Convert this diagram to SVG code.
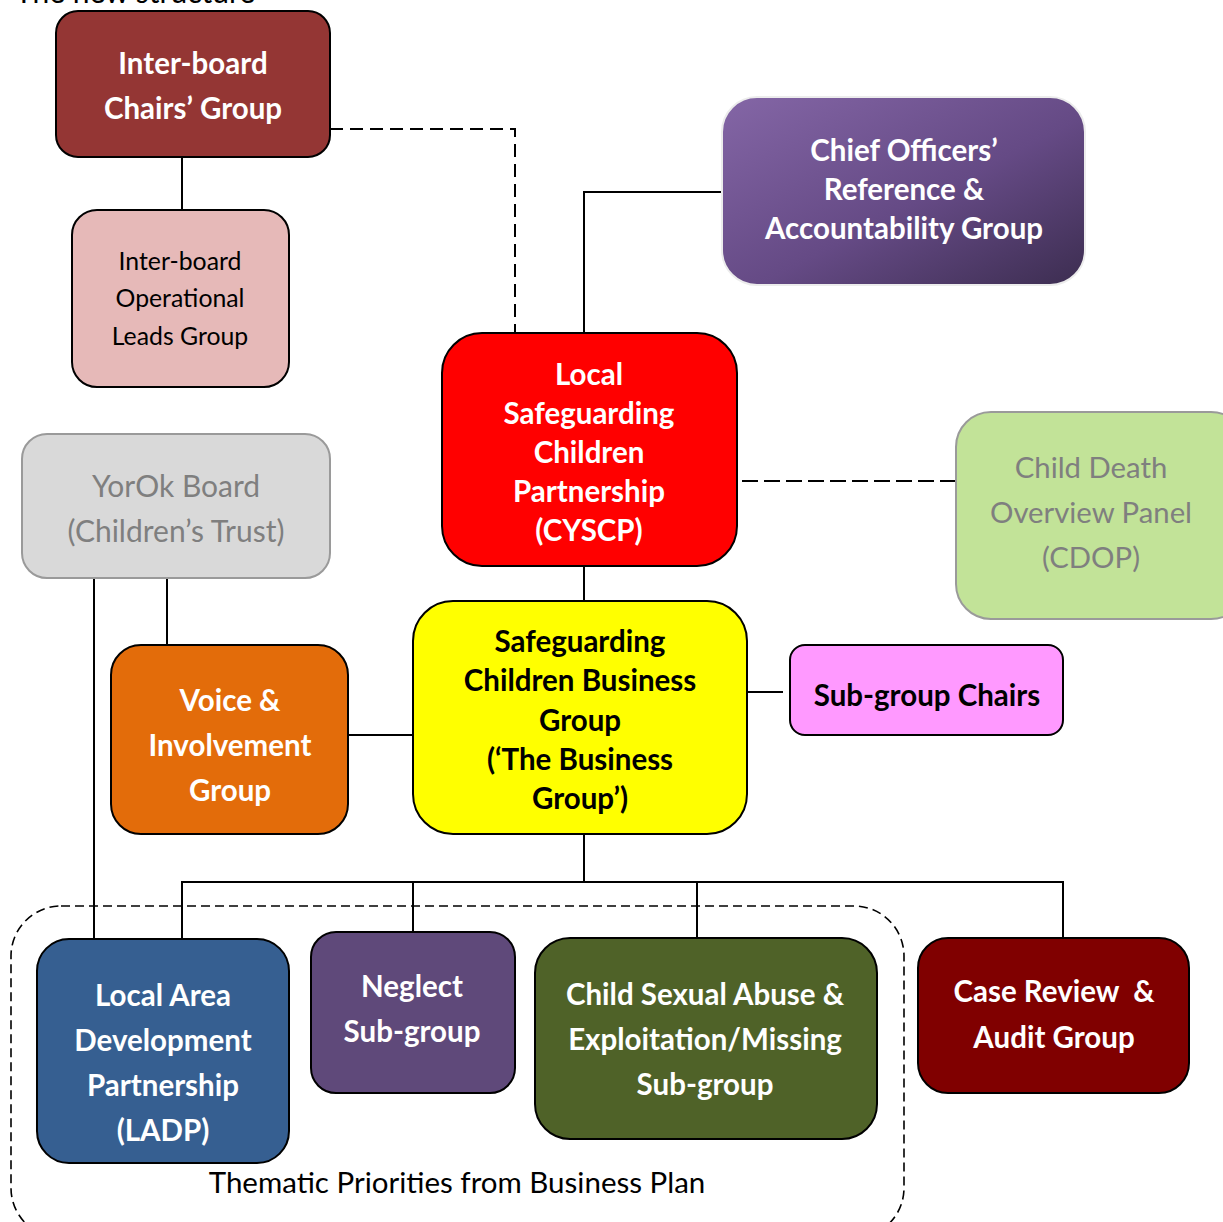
<svg xmlns="http://www.w3.org/2000/svg" width="1223" height="1222" viewBox="0 0 1223 1222">
  <defs>
    <linearGradient id="purpleGrad" x1="0" y1="0" x2="1" y2="1">
      <stop offset="0" stop-color="#8466a6"/>
      <stop offset="0.55" stop-color="#654a85"/>
      <stop offset="1" stop-color="#3c2d50"/>
    </linearGradient>
    <style>
      .box { stroke: #000; stroke-width: 2; }
      .soft { stroke: #9a9a9a; stroke-width: 2; }
      .t { font-family: Lato, "Liberation Sans", sans-serif; text-anchor: middle; }
      .b { font-weight: bold; font-size: 29.5px; }
      .r { font-weight: normal; font-size: 29.3px; }
      .w { fill: #fff; }
      .k { fill: #000; }
      .g { fill: #7f7f7f; }
      .ln { fill: none; stroke: #000; stroke-width: 2; }
      .dash1 { fill: none; stroke: #000; stroke-width: 2; stroke-dasharray: 13 7; }
      .dash2 { fill: none; stroke: #000; stroke-width: 2; stroke-dasharray: 16 6; }
      .dash3 { fill: none; stroke: #000; stroke-width: 1.6; stroke-dasharray: 9 5; }
    </style>
  </defs>
  <rect width="1223" height="1222" fill="#fff"/>

  <!-- heading, partly above the top edge -->
  <text x="15" y="3" class="t r k" style="text-anchor:start;font-size:30px">The new structure</text>

  <!-- frame grouping the thematic priority sub-groups -->
  <g id="thematic-frame">
    <rect x="11" y="906" width="893" height="332" rx="50" class="dash3"/>
    <text x="457" y="1193" class="t r k" style="font-size:29.5px">Thematic Priorities from Business Plan</text>
  </g>

  <!-- connectors -->
  <g id="connectors">
    <line x1="182" y1="157" x2="182" y2="210" class="ln"/>
    <polyline points="330,129 515,129 515,333" class="dash1"/>
    <polyline points="722,192 584,192 584,333" class="ln"/>
    <line x1="742" y1="481" x2="956" y2="481" class="dash2"/>
    <line x1="584" y1="566" x2="584" y2="601" class="ln"/>
    <line x1="167" y1="578" x2="167" y2="645" class="ln"/>
    <line x1="94" y1="578" x2="94" y2="939" class="ln"/>
    <line x1="348" y1="735" x2="413" y2="735" class="ln"/>
    <line x1="747" y1="692" x2="783" y2="692" class="ln"/>
    <line x1="584" y1="834" x2="584" y2="882" class="ln"/>
    <polyline points="182,939 182,882 1063,882 1063,938" class="ln"/>
    <line x1="413" y1="882" x2="413" y2="932" class="ln"/>
    <line x1="697" y1="882" x2="697" y2="938" class="ln"/>
  </g>

  <g id="inter-board-chairs">
    <rect x="56" y="11" width="274" height="146" rx="22" fill="#943634" class="box"/>
    <text class="t b w"><tspan x="193" y="74">Inter-board</tspan><tspan x="193" y="119">Chairs’ Group</tspan></text>
  </g>

  <g id="inter-board-operational">
    <rect x="72" y="210" width="217" height="177" rx="25" fill="#e6b9b8" class="box"/>
    <text class="t r k" style="font-size:24.8px"><tspan x="180" y="270">Inter-board</tspan><tspan x="180" y="307">Operational</tspan><tspan x="180" y="345">Leads Group</tspan></text>
  </g>

  <g id="chief-officers">
    <rect x="722" y="97" width="363" height="188" rx="35" fill="url(#purpleGrad)" stroke="#ececec" stroke-width="2"/>
    <text class="t b w"><tspan x="904" y="161">Chief Officers’</tspan><tspan x="904" y="200">Reference &amp;</tspan><tspan x="904" y="239">Accountability Group</tspan></text>
  </g>

  <g id="cyscp">
    <rect x="442" y="333" width="295" height="233" rx="40" fill="#ff0000" class="box"/>
    <text class="t b w"><tspan x="589" y="385">Local</tspan><tspan x="589" y="424">Safeguarding</tspan><tspan x="589" y="463">Children</tspan><tspan x="589" y="502">Partnership</tspan><tspan x="589" y="541">(CYSCP)</tspan></text>
  </g>

  <g id="yorok-board">
    <rect x="22" y="434" width="308" height="144" rx="25" fill="#d9d9d9" class="soft"/>
    <text class="t r g" style="font-size:30px"><tspan x="176" y="497">YorOk Board</tspan><tspan x="176" y="542">(Children’s Trust)</tspan></text>
  </g>

  <g id="cdop">
    <rect x="956" y="412" width="290" height="207" rx="35" fill="#c2e398" class="soft"/>
    <text class="t r g"><tspan x="1091" y="478">Child Death</tspan><tspan x="1091" y="523">Overview Panel</tspan><tspan x="1091" y="568">(CDOP)</tspan></text>
  </g>

  <g id="business-group">
    <rect x="413" y="601" width="334" height="233" rx="40" fill="#ffff00" class="box"/>
    <text class="t b k"><tspan x="580" y="652">Safeguarding</tspan><tspan x="580" y="691">Children Business</tspan><tspan x="580" y="731">Group</tspan><tspan x="580" y="770">(‘The Business</tspan><tspan x="580" y="809">Group’)</tspan></text>
  </g>

  <g id="sub-group-chairs">
    <rect x="790" y="645" width="273" height="90" rx="15" fill="#ff99ff" class="box"/>
    <text x="927" y="706" class="t b k">Sub-group Chairs</text>
  </g>

  <g id="voice-involvement">
    <rect x="111" y="645" width="237" height="189" rx="30" fill="#e36c0a" class="box"/>
    <text class="t b w"><tspan x="230" y="711">Voice &amp;</tspan><tspan x="230" y="756">Involvement</tspan><tspan x="230" y="801">Group</tspan></text>
  </g>

  <g id="ladp">
    <rect x="37" y="939" width="252" height="224" rx="32" fill="#365f91" class="box"/>
    <text class="t b w"><tspan x="163" y="1006">Local Area</tspan><tspan x="163" y="1051">Development</tspan><tspan x="163" y="1096">Partnership</tspan><tspan x="163" y="1141">(LADP)</tspan></text>
  </g>

  <g id="neglect">
    <rect x="311" y="932" width="204" height="161" rx="25" fill="#5f497a" class="box"/>
    <text class="t b w"><tspan x="412" y="997">Neglect</tspan><tspan x="412" y="1042">Sub-group</tspan></text>
  </g>

  <g id="csa-exploitation">
    <rect x="535" y="938" width="342" height="201" rx="35" fill="#4f6228" class="box"/>
    <text class="t b w"><tspan x="705" y="1005">Child Sexual Abuse &amp;</tspan><tspan x="705" y="1050">Exploitation/Missing</tspan><tspan x="705" y="1095">Sub-group</tspan></text>
  </g>

  <g id="case-review">
    <rect x="918" y="938" width="271" height="155" rx="30" fill="#800000" class="box"/>
    <text class="t b w" xml:space="preserve"><tspan x="1054" y="1002">Case Review  &amp;</tspan><tspan x="1054" y="1048">Audit Group</tspan></text>
  </g>
</svg>
